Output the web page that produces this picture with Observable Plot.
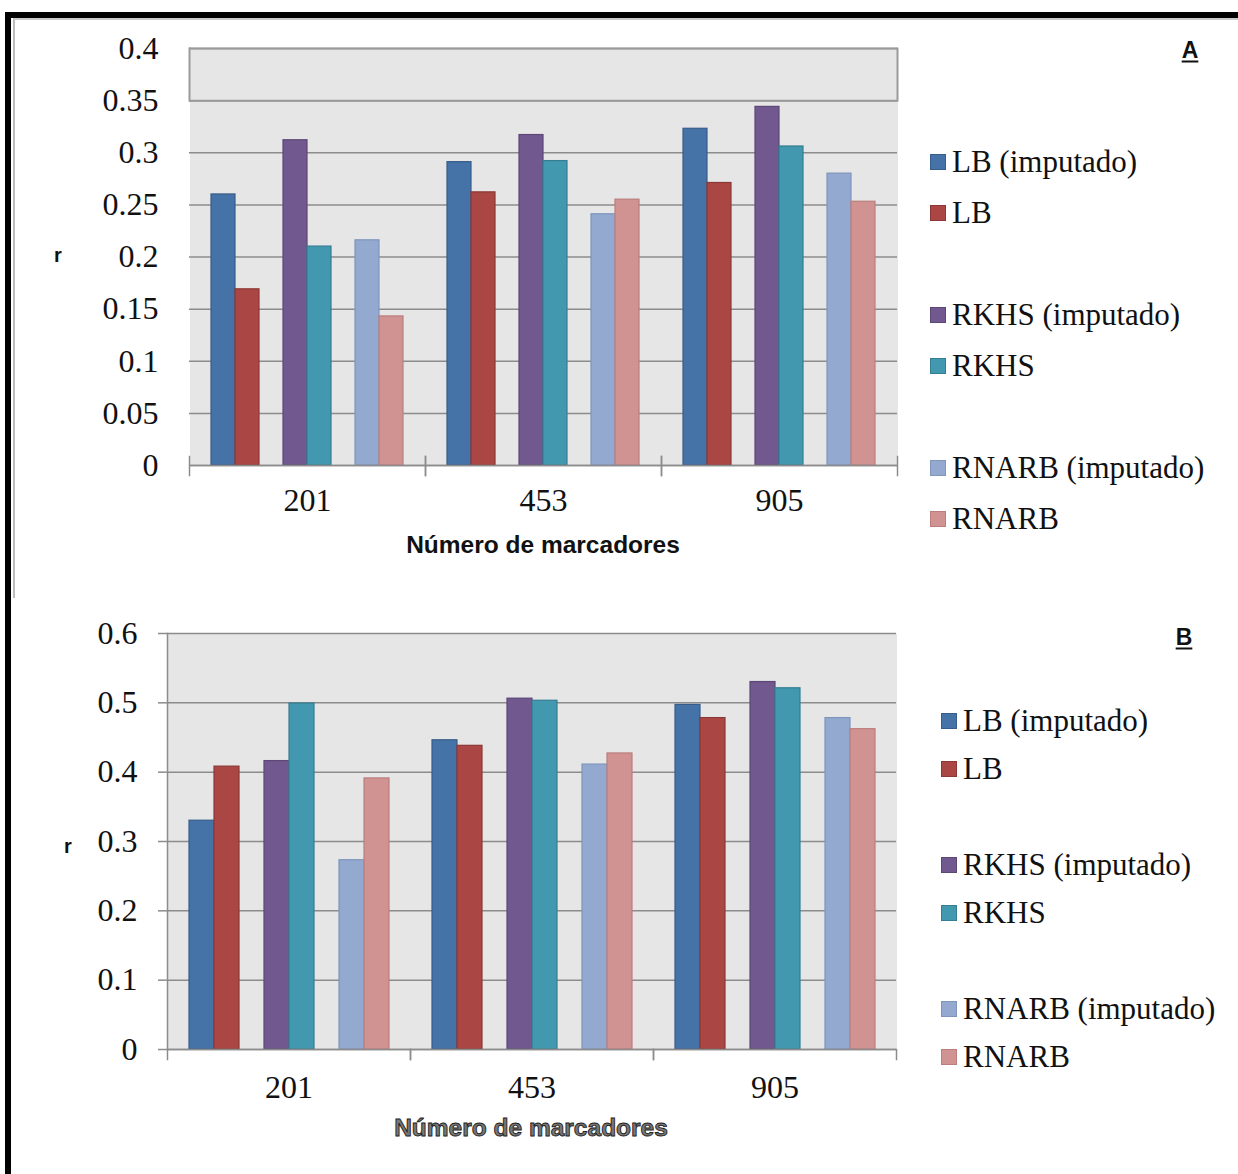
<!DOCTYPE html>
<html><head><meta charset="utf-8">
<script src="https://cdn.jsdelivr.net/npm/d3@7"></script>
<script src="https://cdn.jsdelivr.net/npm/@observablehq/plot@0.6"></script>
<style>
body{margin:0;background:#fff;}
#root{position:relative;width:1238px;height:1174px;overflow:hidden;background:#fff;}
.frameBlack{position:absolute;left:5px;top:12px;width:1240px;height:1170px;border-top:6px solid #000;border-left:6px solid #000;box-sizing:border-box;}
.frameGrey{position:absolute;left:13px;top:18px;width:1240px;height:580px;border-top:2px solid #c8c8c8;border-left:2px solid #bdbdbd;box-sizing:border-box;}
.legend{position:absolute;font-family:"Liberation Serif",serif;font-size:31px;color:#111;}
.legend .row{position:absolute;left:0;display:flex;align-items:center;white-space:nowrap;transform:translateY(-50%);}
.legend .sw{width:14px;height:14px;border:1px solid;margin-right:6px;flex:none;}
.lab{position:absolute;font-family:"Liberation Sans",Arial,sans-serif;font-weight:bold;color:#111;white-space:nowrap;}
.panelLetter{font-size:23px;text-decoration:underline;text-underline-offset:3px;}
</style></head><body><div id="root">
<div class="frameBlack"></div>
<div class="frameGrey"></div>
</div>
<script>
// ---- data ----
const groups = ["201", "453", "905"];
const seriesNames = ["LB (imputado)", "LB", "RKHS (imputado)", "RKHS", "RNARB (imputado)", "RNARB"];
const fillColors = ["#4572A7", "#AA4643", "#71588F", "#4198AF", "#93A9CF", "#D19392"];
const strokeColors = ["#385D8A", "#8C3836", "#5C4776", "#357D91", "#7F95BC", "#B97E7D"];
const ticksA = [0, 0.05, 0.1, 0.15, 0.2, 0.25, 0.3, 0.35, 0.4];
const ticksB = [0, 0.1, 0.2, 0.3, 0.4, 0.5, 0.6];

// Panel A values (per series, for groups 201, 453, 905)
const lbImpA    = [0.260, 0.291, 0.323];
const lbA       = [0.169, 0.262, 0.271];
const rkhsImpA  = [0.312, 0.317, 0.344];
const rkhsA     = [0.210, 0.292, 0.306];
const rnarbImpA = [0.216, 0.241, 0.280];
const rnarbA    = [0.143, 0.255, 0.253];

// Panel B values
const lbImpB    = [0.330, 0.446, 0.497];
const lbB       = [0.408, 0.438, 0.478];
const rkhsImpB  = [0.416, 0.506, 0.530];
const rkhsB     = [0.499, 0.503, 0.521];
const rnarbImpB = [0.273, 0.411, 0.478];
const rnarbB    = [0.391, 0.427, 0.462];

// slot order within a group (two empty series between the pairs, as in the legend)
const slots = [seriesNames[0], seriesNames[1], "_gap1", seriesNames[2], seriesNames[3], "_gap2", seriesNames[4], seriesNames[5]];

function rows(list) {
  const out = [];
  list.forEach((vals, i) => vals.forEach((v, j) => out.push({group: groups[j], series: seriesNames[i], value: v, fill: fillColors[i], stroke: strokeColors[i]})));
  return out;
}
const dataA = rows([lbImpA, lbA, rkhsImpA, rkhsA, rnarbImpA, rnarbA]);
const dataB = rows([lbImpB, lbB, rkhsImpB, rkhsB, rnarbImpB, rnarbB]);

const fmt = d => String(+d.toFixed(2));
const grid = "#8c8c8c";
const root = document.getElementById("root");

// ---- Panel A ----
const hA = 500, mtA = 28, mbA = 55;
const innerA = hA - mtA - mbA;
const boxBottomInset = innerA * (0.35 / 0.4);
const plotA = Plot.plot({
  width: 910, height: hA, marginLeft: 188, marginRight: 12, marginTop: mtA, marginBottom: mbA,
  style: {background: "transparent", fontFamily: "Liberation Serif, serif", color: "#111", overflow: "visible"},
  fx: {domain: groups, padding: 0, axis: null, label: null},
  x: {domain: slots, paddingInner: 0, paddingOuter: 0.75, axis: null},
  y: {domain: [0, 0.4], axis: null, label: null},
  color: {type: "identity"},
  marks: [
    Plot.frame({fill: "#e6e6e6", stroke: "none", shapeRendering: "crispEdges"}),
    Plot.gridY(ticksA, {stroke: grid, strokeOpacity: 1, strokeWidth: 1.5}),
    Plot.ruleY([0.35, 0.4], {stroke: "#9a9a9a", strokeWidth: 2}),
    Plot.frame({anchor: "left", facetAnchor: "left", stroke: "#9a9a9a", strokeWidth: 2, insetBottom: boxBottomInset}),
    Plot.frame({anchor: "right", facetAnchor: "right", stroke: "#9a9a9a", strokeWidth: 2, insetBottom: boxBottomInset}),
    Plot.barY(dataA, {fx: "group", x: "series", y: "value", fill: "fill", stroke: "stroke", strokeWidth: 1.2, inset: 0}),
    Plot.ruleY([0], {stroke: grid, strokeWidth: 1.5}),
    Plot.frame({anchor: "left", stroke: grid, strokeWidth: 1.5, insetTop: innerA - 9, insetBottom: -10}),
    Plot.frame({anchor: "right", stroke: grid, strokeWidth: 1.5, insetTop: innerA - 9, insetBottom: -10}),
    Plot.axisY(ticksA, {anchor: "left", tickSize: 0, tickPadding: 31, fontSize: 32, tickFormat: fmt, label: null}),
    Plot.axisFx({anchor: "bottom", tickSize: 0, tickPadding: 23, fontSize: 32, label: null})
  ]
});
plotA.style.position = "absolute"; plotA.style.left = "0px"; plotA.style.top = "20px";
root.appendChild(plotA);

// ---- Panel B ----
const hB = 520, mtB = 33, mbB = 71;
const innerB = hB - mtB - mbB;
const plotB = Plot.plot({
  width: 910, height: hB, marginLeft: 166, marginRight: 14, marginTop: mtB, marginBottom: mbB,
  style: {background: "transparent", fontFamily: "Liberation Serif, serif", color: "#111", overflow: "visible"},
  fx: {domain: groups, padding: 0, axis: null, label: null},
  x: {domain: slots, paddingInner: 0, paddingOuter: 0.75, axis: null},
  y: {domain: [0, 0.6], axis: null, label: null},
  color: {type: "identity"},
  marks: [
    Plot.frame({fill: "#e6e6e6", stroke: "none", shapeRendering: "crispEdges"}),
    Plot.gridY(ticksB, {stroke: grid, strokeOpacity: 1, strokeWidth: 1.5}),
    Plot.barY(dataB, {fx: "group", x: "series", y: "value", fill: "fill", stroke: "stroke", strokeWidth: 1.2, inset: 0}),
    Plot.ruleY([0], {stroke: grid, strokeWidth: 1.5}),
    Plot.frame({anchor: "left", stroke: grid, strokeWidth: 1.5, facetAnchor: "left"}),
    Plot.frame({anchor: "left", stroke: grid, strokeWidth: 1.5, insetTop: innerB, insetBottom: -10}),
    Plot.frame({anchor: "right", stroke: grid, strokeWidth: 1.5, insetTop: innerB, insetBottom: -10}),
    Plot.axisY(ticksB, {anchor: "left", tickSize: 9, stroke: grid, strokeWidth: 1.5, tickPadding: 21, fontSize: 32, tickFormat: fmt, label: null}),
    Plot.axisFx({anchor: "bottom", tickSize: 0, tickPadding: 26, fontSize: 32, label: null})
  ]
});
plotB.style.position = "absolute"; plotB.style.left = "0px"; plotB.style.top = "600px";
root.appendChild(plotB);

// ---- legends ----
function legend(left, top, step) {
  const lg = document.createElement("div");
  lg.className = "legend";
  lg.style.left = left + "px"; lg.style.top = top + "px";
  slots.forEach((s, k) => {
    const i = seriesNames.indexOf(s);
    if (i < 0) return;
    const r = document.createElement("div");
    r.className = "row";
    r.style.top = (k * step) + "px";
    const sw = document.createElement("span");
    sw.className = "sw";
    sw.style.background = fillColors[i];
    sw.style.borderColor = strokeColors[i];
    r.appendChild(sw);
    r.appendChild(document.createTextNode(s));
    lg.appendChild(r);
  });
  root.appendChild(lg);
}
legend(930, 162, 51);
legend(941, 721, 48);

// ---- labels ----
function label(text, x, y, size, extra) {
  const d = document.createElement("div");
  d.className = "lab" + (extra ? " " + extra : "");
  d.textContent = text;
  d.style.fontSize = size + "px";
  d.style.left = x + "px"; d.style.top = y + "px";
  d.style.transform = "translate(-50%,-50%)";
  root.appendChild(d);
  return d;
}
label("A", 1190, 50, 23, "panelLetter");
label("B", 1184, 637, 23, "panelLetter");
label("r", 58, 255, 20);
label("r", 68, 846, 20);
label("Número de marcadores", 543, 545, 24.5);
const xb = label("Número de marcadores", 531, 1128, 24.5);
xb.style.color = "#777"; xb.style.webkitTextStroke = "0.9px #222";
</script>
</body></html>
